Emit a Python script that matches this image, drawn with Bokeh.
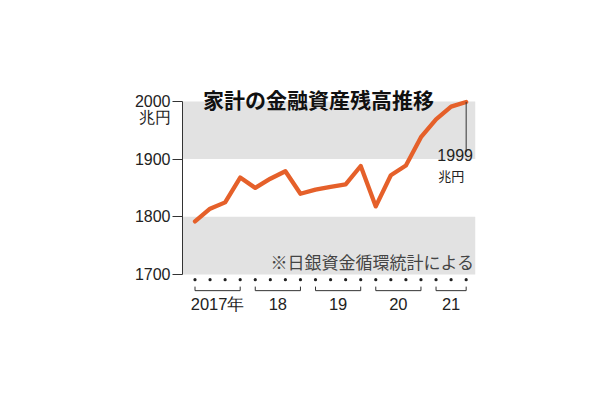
from bokeh.plotting import figure
from bokeh.models import Range1d, FixedTicker, Label
from bokeh.core.properties import value
from bokeh.embed import file_html
from bokeh.resources import INLINE

# ---- data ----
years = ["2017年", "18", "19", "20", "21"]
quarters_per_year = [4, 4, 4, 4, 3]
assets = [1792, 1814, 1825, 1868, 1850, 1866, 1879, 1840, 1847, 1852, 1856, 1888,
          1818, 1872, 1889, 1938, 1969, 1991, 1999]
y_ticks = [1700, 1800, 1900, 2000]
band_bottoms = [1700, 1900]
band_tops = [1800, 2000]
title_text = "家計の金融資産残高推移"
note_text = "※日銀資金循環統計による"
unit_text = "兆円"
unit_label_pos = 1971.5

idx = list(range(len(assets)))
x_start, x_end = -0.83, 18.62
y_min, y_max = 1622, 2031

p = figure(width=594, height=384, output_backend="svg", toolbar_location=None,
           x_range=Range1d(x_start, x_end), y_range=Range1d(y_min, y_max),
           x_axis_location=None, min_border_left=182, min_border_right=119,
           min_border_top=83, min_border_bottom=65)
p.outline_line_color = None
p.xgrid.visible = False
p.ygrid.visible = False
p.background_fill_color = "white"
p.border_fill_color = "white"

# y axis: tick marks as minor ticks, labels (incl. unit) as major ticks
ax = p.yaxis[0]
ax.ticker = FixedTicker(ticks=y_ticks + [unit_label_pos], minor_ticks=y_ticks)
ax.major_label_overrides = {unit_label_pos: unit_text}
ax.bounds = (y_ticks[0], y_ticks[-1])
ax.axis_line_color = "#333333"
ax.axis_line_width = 1
ax.major_tick_out = 0
ax.major_tick_in = 0
ax.major_tick_line_color = None
ax.minor_tick_line_color = "#333333"
ax.minor_tick_out = 10
ax.minor_tick_in = 0
ax.major_label_standoff = 2
ax.major_label_text_font = "Liberation Sans"
ax.major_label_text_font_size = "16px"
ax.major_label_text_color = "#222222"

# gray bands
p.quad(left=x_start, right=x_end, bottom=band_bottoms, top=band_tops,
       fill_color="#e2e2e2", line_color=None)

# main line
p.line(idx, assets, line_width=4.3, line_color="#E5602A", line_join="round", line_cap="round")

# quarter dots
dot_y = y_ticks[0] - 9
p.scatter(idx, [dot_y] * len(idx), size=3.2, color="#222222", line_color=None)

# year brackets and labels
br_y = y_ticks[0] - 28
br_top = br_y + 7
lab_y = y_ticks[0] - 52
starts, ends, centers = [], [], []
s = 0
for n in quarters_per_year:
    starts.append(s)
    ends.append(s + n - 1)
    centers.append(s + (n - 1) / 2)
    s += n
p.segment(x0=starts, y0=[br_y] * len(starts), x1=ends, y1=[br_y] * len(starts),
          line_color="#333333", line_width=1)
p.segment(x0=starts + ends, y0=[br_y] * (2 * len(starts)), x1=starts + ends,
          y1=[br_top] * (2 * len(starts)), line_color="#333333", line_width=1)
p.text(x=centers, y=[lab_y] * len(centers), text=years, text_align="center",
       text_baseline="middle", text_font=value("Liberation Sans"),
       text_font_size="16.5px", text_color="#222222")

# title
p.add_layout(Label(x=8.2, y=2005, text=title_text, text_align="center",
                   text_baseline="middle", text_font="Noto Sans CJK JP",
                   text_font_style="bold", text_font_size="21px", text_color="#111111"))

# end annotation
last = assets[-1]
p.segment(x0=[idx[-1]], y0=[last], x1=[idx[-1]], y1=[1912], line_color="#333333", line_width=1)
p.add_layout(Label(x=idx[-1], y=1907, text=str(last), text_align="center",
                   text_baseline="middle", x_offset=-11, text_font="Liberation Sans",
                   text_font_size="16px", text_color="#222222"))
p.add_layout(Label(x=idx[-1], y=1872, text=unit_text, text_align="center",
                   text_baseline="middle", x_offset=-15, text_font="Noto Sans CJK JP",
                   text_font_size="13px", text_color="#222222"))

# note
p.add_layout(Label(x=x_end, y=1722, text=note_text, text_align="right",
                   text_baseline="middle", x_offset=-1, text_font="Noto Sans CJK JP",
                   text_font_size="17px", text_color="#444444"))

open("out.html", "w").write(file_html(p, INLINE))
